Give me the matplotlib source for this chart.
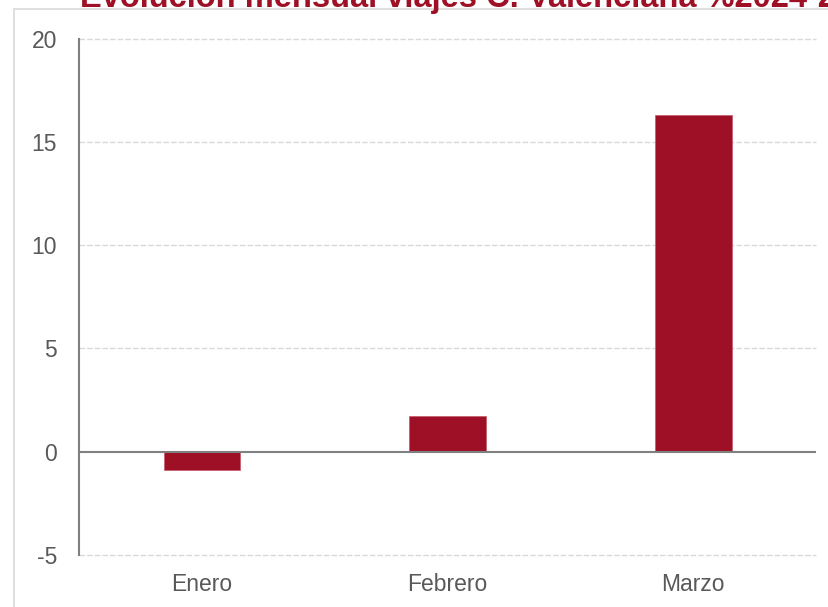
import matplotlib
matplotlib.use("Agg")
import matplotlib.pyplot as plt
from matplotlib.patches import Rectangle

categories = ["Enero", "Febrero", "Marzo"]
values = [-0.9, 1.75, 16.3]
yticks = [-5, 0, 5, 10, 15, 20]
title = "Evolución mensual viajes C. Valenciana %2024-2023"

plt.rcParams['font.family'] = ['Liberation Sans', 'DejaVu Sans']

W, H = 829, 607
fig = plt.figure(figsize=(W / 100, H / 100), dpi=100)

# outer border box (partially clipped)
fig.patches.append(Rectangle((14 / W, -0.1), 1.2, 1 - 9.3 / H + 0.1, transform=fig.transFigure,
                             fill=False, edgecolor='#d9d9d9', linewidth=1.2))

ax = fig.add_axes([79.3 / W, 1 - 555 / H, (816 - 79.3) / W, (555 - 38.5) / H])
x = list(range(len(categories)))
ax.bar(x, values, width=0.312, color='#9e1025', edgecolor='#c45a6a', linewidth=0.5, zorder=3)

ax.set_xlim(-0.5, 2.5)
ax.set_ylim(-5, 20)
ax.set_yticks(yticks)
ax.set_yticklabels([str(t) for t in yticks])
ax.set_xticks(x)
ax.set_xticklabels(categories)

for t in yticks:
    if t == 0:
        continue
    ax.axhline(t, color='#d9d9d9', linewidth=1, linestyle=(0, (4, 1.5)), zorder=1, clip_on=False)
ax.axhline(0, color='#808080', linewidth=1.5, zorder=4)

for s in ['top', 'right', 'bottom']:
    ax.spines[s].set_visible(False)
ax.spines['left'].set_color('#808080')
ax.spines['left'].set_linewidth(1.5)
ax.spines['left'].set_zorder(5)

ax.tick_params(axis='y', length=0, pad=16, labelsize=16.5, labelcolor='#595959')
ax.tick_params(axis='x', length=0, pad=13, labelsize=16.5, labelcolor='#595959')

fig.text(80 / W, 1 - 7.5 / H, title, ha='left', va='baseline', fontsize=23.5,
         fontweight='bold', color='#9e1025')

fig.savefig("out.png", dpi=100)
